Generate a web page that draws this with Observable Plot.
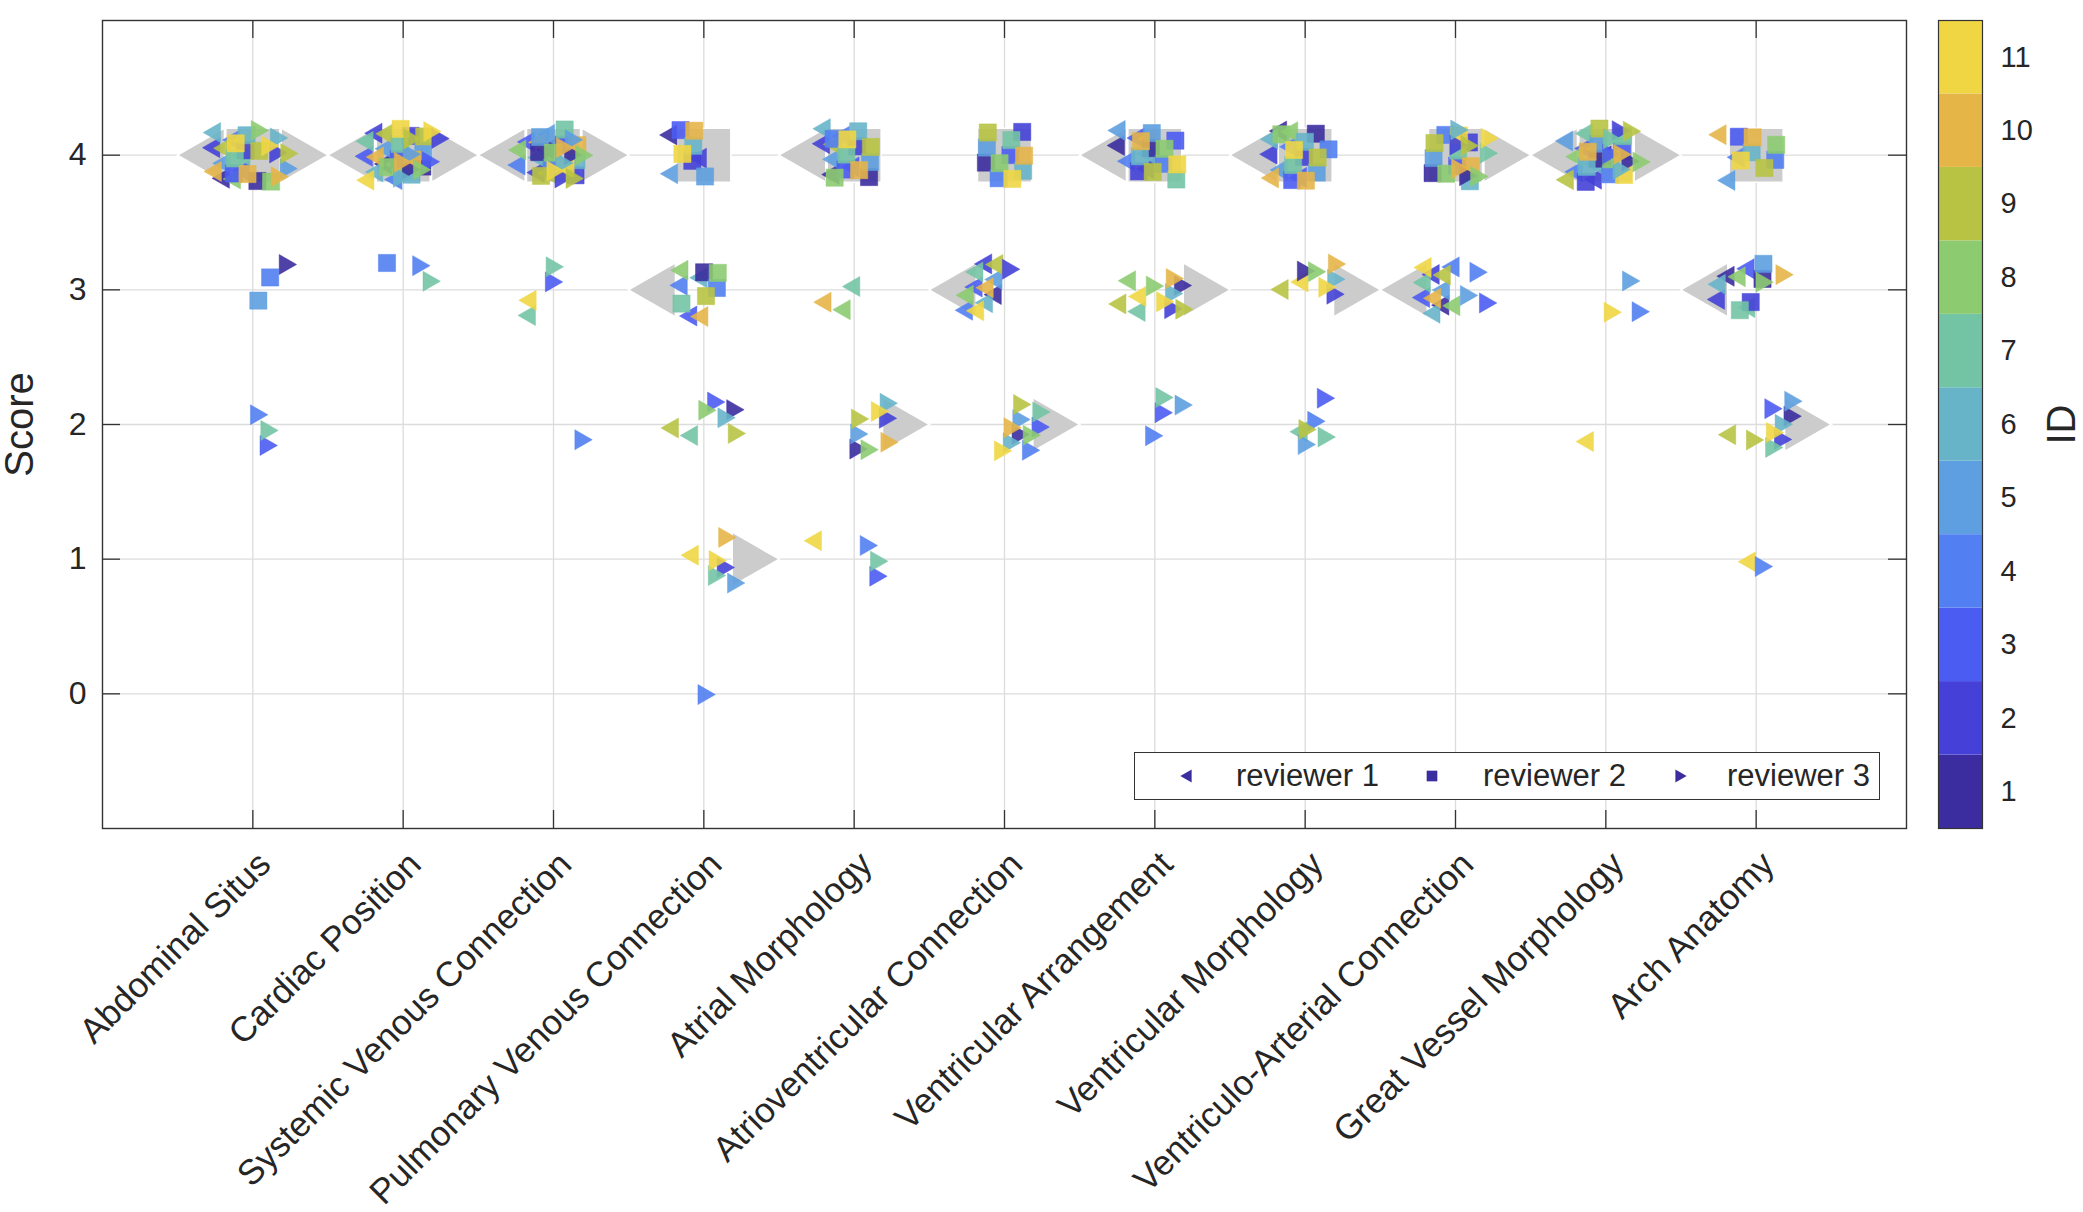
<!DOCTYPE html>
<html>
<head>
<meta charset="utf-8">
<script src="https://cdn.jsdelivr.net/npm/d3@7"></script>
<script src="https://cdn.jsdelivr.net/npm/@observablehq/plot@0.6"></script>
<style>
  html, body { margin: 0; padding: 0; background: #fff; }
  body { width: 2083px; height: 1212px; position: relative; overflow: hidden;
         font-family: "Liberation Sans", Arial, Helvetica, sans-serif; color: #262626; }
  #main { position: absolute; left: 0; top: 0; }
  #cbar { position: absolute; left: 1920px; top: 0; }
  #legend { position: absolute; left: 1134px; top: 752px; width: 744px; height: 46px;
            border: 1.5px solid #333; background: #fff; font-size: 31px; }
  #legend .item { position: absolute; top: 0; height: 46px; line-height: 46px; white-space: nowrap; }
  #legend svg { position: absolute; top: 0; }
</style>
</head>
<body>
<div id="main"></div>
<div id="cbar"></div>
<div id="legend"></div>
<script>
// ---------------- data ----------------
const categories = [
  "Abdominal Situs", "Cardiac Position", "Systemic Venous Connection",
  "Pulmonary Venous Connection", "Atrial Morphology", "Atrioventricular Connection",
  "Ventricular Arrangement", "Ventricular Morphology", "Ventriculo-Arterial Connection",
  "Great Vessel Morphology", "Arch Anatomy"
];
const ids = [1, 2, 3, 4, 5, 6, 7, 8, 9, 10, 11];
const reviewerNames = ["reviewer 1", "reviewer 2", "reviewer 3"];
const yTicks = [0, 1, 2, 3, 4];
const idColors = ["#3b2c9f", "#4541d8", "#4b5cf2", "#527ff1", "#5d9fe0", "#67b4c9",
                  "#73c4a5", "#8ccb70", "#b8c343", "#e5b548", "#f0d643"];

// scores per category (rows) for ID 1..11 (columns)
const reviewer1Scores = [
  [4,4,4,4,4,4,4,4,4,4,4],
  [4,4,4,4,4,4,4,4,4,4,4],
  [4,4,4,4,4,4,3,4,4,4,3],
  [4,4,3,3,4,3,2,3,2,3,1],
  [4,4,4,4,4,4,3,3,4,3,1],
  [3,3,3,3,3,3,3,3,3,3,3],
  [4,4,4,4,4,4,3,3,3,4,3],
  [4,4,4,4,4,4,2,4,3,4,3],
  [3,3,3,3,3,3,3,3,3,3,3],
  [4,4,4,4,4,4,4,4,4,4,2],
  [3,3,3,4,4,3,3,3,2,4,1]
];
const reviewer2Scores = [
  [4,4,4,3,3,4,4,4,4,4,4],
  [4,4,4,3,4,4,4,4,4,4,4],
  [4,4,4,4,4,4,4,4,4,4,4],
  [3,4,4,3,4,4,3,3,3,4,4],
  [4,4,4,4,4,4,4,4,4,4,4],
  [4,4,4,4,4,4,4,4,4,4,4],
  [4,4,4,4,4,4,4,4,4,4,4],
  [4,4,4,4,4,4,4,4,4,4,4],
  [4,4,4,4,4,4,4,4,4,4,4],
  [4,4,4,4,4,4,4,4,4,4,4],
  [3,3,4,4,3,4,3,4,4,4,4]
];
const reviewer3Scores = [
  [3,4,2,2,4,4,2,4,4,4,4],
  [4,4,4,3,4,4,3,4,4,4,4],
  [4,4,3,2,4,4,3,4,4,4,4],
  [2,1,2,0,1,2,1,2,2,1,1],
  [2,2,1,1,2,2,1,2,2,2,2],
  [2,3,2,2,2,2,2,2,2,2,2],
  [3,3,2,2,2,3,2,3,3,3,3],
  [3,3,2,2,2,3,2,3,2,3,3],
  [4,4,3,3,3,4,4,4,4,4,4],
  [4,4,4,3,3,4,4,4,4,4,3],
  [2,2,2,1,2,2,2,3,2,3,2]
];
const scoreTables = [reviewer1Scores, reviewer2Scores, reviewer3Scores];

// ---------------- symbols ----------------
function triangle(dir) { // dir -1 = pointing left, +1 = pointing right
  return {draw(ctx, size) {
    const r = Math.sqrt(size / Math.PI), w = r * 0.87;
    ctx.moveTo(dir * w, 0);
    ctx.lineTo(-dir * w, -r);
    ctx.lineTo(-dir * w, r);
    ctx.closePath();
  }};
}
function square(k) {
  return {draw(ctx, size) {
    const h = Math.sqrt(size / Math.PI) * k;
    ctx.rect(-h, -h, 2 * h, 2 * h);
  }};
}
const triL = triangle(-1), triR = triangle(1);
const sqSmall = square(0.86), sqBig = square(1.0);

// ---------------- derived tables (positions) ----------------
const centerOff = [-0.15, 0, 0.12];
const halfJit = [0.13, 0.16, 0.13];
const grayOff = [-0.345, 0, 0.345];
const points = [];
let k = 0;
scoreTables.forEach((table, ri) => {
  table.forEach((row, ci) => {
    row.forEach((s, ii) => {
      k++;
      const jx = ((0.5 + k * 0.7548776662) % 1) - 0.5;
      const jy = ((0.5 + k * 0.5698402910) % 1) - 0.5;
      points.push({
        reviewer: ri + 1, id: ids[ii], score: s,
        xpos: ci + 1 + centerOff[ri] + 2 * jx * halfJit[ri],
        ypos: s + jy * 0.4
      });
    });
  });
});
const medians = [];
scoreTables.forEach((table, ri) => {
  table.forEach((row, ci) => {
    medians.push({reviewer: ri + 1, xpos: ci + 1 + grayOff[ri], score: d3.median(row)});
  });
});

const xTicks = d3.range(1, categories.length + 1);
const gray = "#cccccc";
const FONT = "'Liberation Sans', Arial, Helvetica, sans-serif";

// ---------------- main chart ----------------
const main = Plot.plot({
  width: 1920, height: 1212,
  marginTop: 20, marginLeft: 102, marginRight: 14, marginBottom: 384,
  style: {fontFamily: FONT, fontSize: "30px", color: "#262626", background: "transparent", overflow: "visible"},
  x: {domain: [0, 12]},
  y: {domain: [-1, 5]},
  color: {type: "ordinal", domain: ids, range: idColors},
  symbol: {domain: [1, 2, 3], range: [triL, sqSmall, triR]},
  marks: [
    Plot.gridX(xTicks, {stroke: "#dcdcdc", strokeOpacity: 1, strokeWidth: 1.3}),
    Plot.gridY(yTicks, {stroke: "#dcdcdc", strokeOpacity: 1, strokeWidth: 1.3}),
    Plot.dot(medians.filter(d => d.reviewer === 1), {x: "xpos", y: "score", r: 27, symbol: triL, fill: gray, stroke: "#fff", strokeWidth: 1.5}),
    Plot.dot(medians.filter(d => d.reviewer === 2), {x: "xpos", y: "score", r: 27, symbol: sqBig, fill: gray, stroke: "#fff", strokeWidth: 1.5}),
    Plot.dot(medians.filter(d => d.reviewer === 3), {x: "xpos", y: "score", r: 27, symbol: triR, fill: gray, stroke: "#fff", strokeWidth: 1.5}),
    Plot.dot(points, {x: "xpos", y: "ypos", r: 10, symbol: "reviewer", fill: "id", fillOpacity: 0.9,
                      stroke: "id", strokeOpacity: 0.45, strokeWidth: 1}),
    Plot.tickX(xTicks, {x: d => d, insetTop: 790, stroke: "#333", strokeWidth: 1.3}),
    Plot.tickX(xTicks, {x: d => d, insetBottom: 790, stroke: "#333", strokeWidth: 1.3}),
    Plot.tickY(yTicks, {y: d => d, insetRight: 1786, stroke: "#333", strokeWidth: 1.3}),
    Plot.tickY(yTicks, {y: d => d, insetLeft: 1786, stroke: "#333", strokeWidth: 1.3}),
    Plot.frame({stroke: "#333", strokeWidth: 1.4}),
    Plot.axisY(yTicks, {tickSize: 0, tickPadding: 16, fontSize: 32, label: null, tickFormat: d => String(d)}),
    Plot.axisX(xTicks, {tickSize: 0, tickPadding: 30, dx: 12, tickRotate: -45, textAnchor: "end", lineAnchor: "middle",
                        fontSize: 35, label: null, tickFormat: i => categories[i - 1]}),
    Plot.text(["Score"], {text: d => d, frameAnchor: "left", dx: -82, rotate: -90, fontSize: 40,
                          textAnchor: "middle", lineAnchor: "middle"})
  ]
});
document.getElementById("main").appendChild(main);

// ---------------- colorbar ----------------
const cbar = Plot.plot({
  width: 163, height: 1212,
  marginTop: 20, marginBottom: 384, marginLeft: 18, marginRight: 101,
  style: {fontFamily: FONT, fontSize: "30px", color: "#262626", background: "transparent", overflow: "visible"},
  x: {domain: [0, 1], axis: null},
  y: {domain: [0.5, 11.5]},
  color: {type: "ordinal", domain: ids, range: idColors},
  marks: [
    Plot.rect(ids, {x1: () => 0, x2: () => 1, y1: d => d - 0.5, y2: d => d + 0.5, fill: d => d}),
    Plot.frame({stroke: "#333", strokeWidth: 1.2}),
    Plot.axisY(ids, {anchor: "right", tickSize: 0, tickPadding: 18, fontSize: 29, label: null, tickFormat: d => String(d)}),
    Plot.text(["ID"], {text: d => d, frameAnchor: "right", dx: 80, rotate: -90, fontSize: 40,
                       textAnchor: "middle", lineAnchor: "middle"})
  ]
});
document.getElementById("cbar").appendChild(cbar);

// ---------------- legend ----------------
const legend = d3.select("#legend");
const legendColor = idColors[0];
const legendItems = [
  {sym: triL, mx: 51, tx: 101},
  {sym: sqSmall, mx: 297, tx: 348},
  {sym: triR, mx: 546, tx: 592}
];
legendItems.forEach((it, i) => {
  const svg = legend.append("svg").attr("width", 30).attr("height", 46)
    .style("left", (it.mx - 15) + "px");
  svg.append("path")
    .attr("transform", "translate(15,23)")
    .attr("d", d3.symbol(it.sym, Math.PI * (i === 1 ? 6.2 : 6.5) ** 2)())
    .attr("fill", legendColor);
  legend.append("div").attr("class", "item").style("left", it.tx + "px").text(reviewerNames[i]);
});
</script>
</body>
</html>
